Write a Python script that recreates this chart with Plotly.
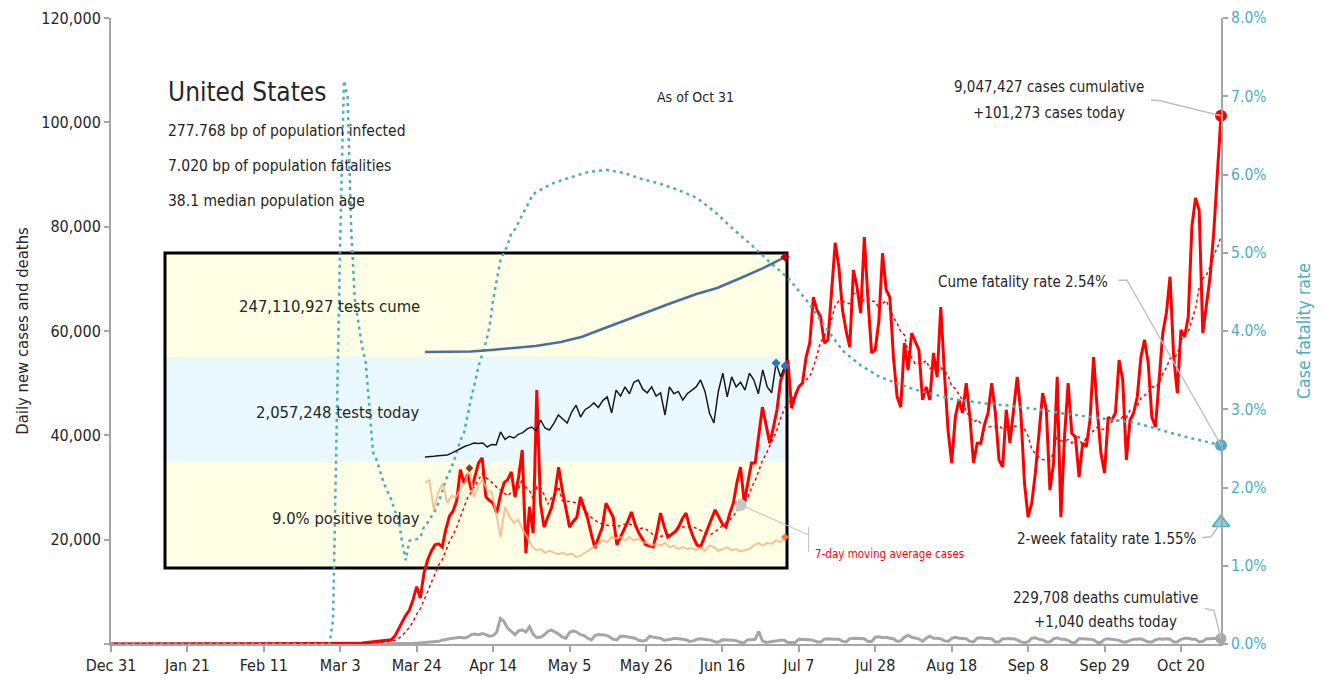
import pandas as pd
import plotly.graph_objects as go

FONT = "DejaVu Sans Condensed, Liberation Sans Narrow, sans-serif"
RED = "#FF0000"
GREY = "#A6A6A6"
BLUE = "#4BACC6"
TXT = "#262626"

# ---- main chart data ----
first_day = "2019-12-31"

# daily new cases, Mar 1 .. Oct 31 2020
cases_mar = [0, 0, 10, 20, 30, 50, 80, 120, 180, 250, 300, 400, 450, 500, 600, 700, 800, 1500, 3000, 4200,
             5500, 6500, 8500, 11000, 8800, 13600, 16100, 17800, 19000, 19200, 18600]
cases_apr = [22000, 24500, 25500, 27500, 33400, 30900, 32500, 29500, 32000, 34700, 35700, 28200, 27500, 27000,
             25100, 28500, 30900, 31500, 33000, 28200, 32000, 37200, 17400, 26300, 21300, 48700, 27000, 22400,
             24300, 26000]
cases_may = [29000, 33900, 29500, 26000, 22400, 23500, 24300, 28200, 26300, 24000, 21000, 18400, 20500, 22400,
             27000, 25500, 24300, 19000, 20500, 21900, 23500, 25300, 23000, 21300, 20000, 19000, 18800, 18600,
             21500, 25100, 22500]
cases_jun = [20500, 21000, 21500, 22500, 24000, 25100, 22400, 20500, 19000, 18600, 20500, 22400, 24000, 25700,
             24300, 23000, 22400, 25000, 27000, 31000, 33900, 27000, 31000, 34700, 34700, 40000, 45400, 42000,
             38500, 41500]
cases_jul = [44900, 50500, 52500, 54400, 45200, 47500, 49300, 50000, 55000, 57700, 66500, 64000, 62700, 57700,
             58300, 68400, 76900, 72300, 64000, 60000, 56900, 71700, 68400, 63400, 78000, 66000, 55800, 56400,
             62000, 74900, 67900]
cases_aug = [66500, 55000, 47400, 45400, 57700, 52500, 59600, 58000, 56400, 46800, 49300, 46800, 55800, 51200,
             64600, 52000, 41000, 34700, 43500, 46800, 44300, 50000, 43500, 34700, 38500, 38500, 42000, 44300,
             50000, 44300, 35300]
cases_sep = [33900, 44900, 38500, 45000, 51200, 44300, 30900, 24300, 27000, 32800, 40000, 48100, 44900, 29500,
             34700, 51200, 24300, 39700, 50000, 40400, 39700, 32000, 38500, 37800, 42900, 55000, 44900, 36600,
             32800, 43500]
cases_oct = [42900, 44300, 54400, 50600, 35300, 42900, 44300, 47400, 55000, 58300, 53900, 43500, 41600, 50600,
             59600, 63500, 70400, 55000, 48100, 60200, 58900, 62700, 80000, 85500, 83200, 59600, 65000, 70400,
             78800, 89000, 101273]

# daily deaths, Mar 1 .. Oct 31 2020
deaths_mar = [0, 1, 2, 3, 2, 4, 3, 4, 4, 7, 6, 9, 8, 11, 10, 17, 23, 37, 45, 56, 67, 103, 134, 156, 206, 256,
              385, 480, 505, 514, 711]
deaths_apr = [900, 1000, 1100, 1200, 1300, 1150, 1300, 1800, 1900, 1800, 2000, 1800, 1500, 1600, 2300, 4900,
              4300, 3000, 2300, 1800, 2500, 2700, 2300, 3300, 1900, 1200, 1300, 1700, 2400, 2700]
deaths_may = [2300, 1900, 1300, 1100, 2200, 2500, 2300, 1800, 1600, 1100, 800, 1600, 1800, 1800, 1700, 1400,
              900, 800, 1500, 1500, 1400, 1300, 1100, 700, 600, 700, 1500, 1300, 1200, 1100, 700]
deaths_jun = [800, 1000, 1100, 1000, 900, 800, 500, 600, 900, 1000, 900, 800, 700, 400, 400, 800, 800, 700,
              700, 600, 300, 300, 800, 800, 900, 2400, 600, 300, 400, 600]
deaths_jul = [700, 700, 700, 300, 300, 300, 900, 900, 900, 800, 700, 400, 400, 900, 1000, 900, 900, 900, 500,
              400, 1000, 1100, 1100, 1100, 1000, 500, 500, 1300, 1400, 1200, 1300]
deaths_aug = [1100, 1000, 500, 600, 1300, 1700, 1300, 1100, 1000, 500, 1100, 1500, 1100, 1100, 1000, 600, 500,
              1100, 1300, 1100, 1100, 1000, 500, 400, 1100, 1200, 1100, 1000, 1000, 400, 400]
deaths_sep = [1000, 1000, 1100, 1000, 800, 400, 300, 400, 1100, 1200, 900, 800, 400, 400, 1000, 1200, 900, 900,
              700, 300, 300, 1000, 1000, 1000, 900, 800, 300, 300, 900, 1000]
deaths_oct = [900, 900, 700, 400, 400, 700, 900, 900, 1000, 700, 400, 400, 800, 1000, 900, 1000, 900, 400, 400,
              900, 1100, 1100, 900, 900, 400, 500, 1000, 1000, 1100, 1000, 1040]

# cumulative case fatality rate (%), daily Feb 29 .. Apr 19, then every 5 days
cfr_daily = [0, 0.3, 2.8, 5.2, 7.2, 7.0, 5.3, 4.4, 4.1, 3.8, 3.6, 3.0, 2.45, 2.35, 2.2, 2.05, 1.95, 1.85, 1.7,
             1.6, 1.3, 1.07, 1.32, 1.33, 1.34, 1.36, 1.5, 1.55, 1.62, 1.7, 1.8, 1.95,
             2.1, 2.2, 2.31, 2.45, 2.6, 2.7, 2.95, 3.15, 3.34, 3.55, 3.7, 3.85, 4.05, 4.4, 4.65, 4.9, 5.0, 5.1,
             5.25]
cfr_later_dates = ["2020-04-20", "2020-04-25", "2020-04-30", "2020-05-05", "2020-05-10", "2020-05-15",
                   "2020-05-20", "2020-05-25", "2020-05-30", "2020-06-04", "2020-06-09", "2020-06-14",
                   "2020-06-19", "2020-06-24", "2020-06-29", "2020-07-04", "2020-07-09", "2020-07-14",
                   "2020-07-19", "2020-07-24", "2020-07-29", "2020-08-03", "2020-08-08", "2020-08-13",
                   "2020-08-18", "2020-08-23", "2020-08-28", "2020-09-02", "2020-09-07", "2020-09-12",
                   "2020-09-17", "2020-09-22", "2020-09-27", "2020-10-02", "2020-10-07", "2020-10-12",
                   "2020-10-17", "2020-10-22", "2020-10-27", "2020-10-31"]
cfr_later = [5.3, 5.75, 5.88, 5.96, 6.03, 6.06, 6.02, 5.94, 5.88, 5.8, 5.7, 5.52, 5.3, 5.1, 4.88, 4.68, 4.4,
             4.07, 3.75, 3.56, 3.42, 3.33, 3.25, 3.19, 3.13, 3.10, 3.07, 3.05, 3.02, 2.99, 2.95, 2.92, 2.89,
             2.86, 2.83, 2.77, 2.70, 2.64, 2.58, 2.54]
two_week_cfr = 1.55

# ---- inset (testing) data ----
cume_dates = ["2020-03-01", "2020-03-15", "2020-04-01", "2020-04-15", "2020-05-01", "2020-05-15", "2020-06-01",
              "2020-06-15", "2020-07-01", "2020-07-15", "2020-08-01", "2020-08-15", "2020-09-01", "2020-09-15",
              "2020-10-01", "2020-10-15", "2020-10-31"]
tests_cume = [0, 0.2e6, 1.3e6, 5.2e6, 10.4e6, 15.6e6, 26.0e6, 39.0e6, 62.4e6, 83.2e6, 106.6e6, 127.5e6,
              150.9e6, 166.5e6, 192.5e6, 215.9e6, 247110927]
tests_today = [66e3, 70e3, 80e3, 95e3, 100e3, 110e3, 150e3, 200e3, 250e3, 300e3, 330e3, 372e3, 360e3, 372e3,
               285e3, 340e3, 328e3, 613e3, 450e3, 520e3, 481e3, 560e3, 600e3, 680e3, 722e3, 640e3, 875e3,
               700e3, 657e3, 800e3, 985e3, 900e3, 810e3, 1.05e6, 1.20e6, 941e3, 1.10e6, 1.16e6, 1.25e6,
               1.15e6, 1.30e6, 1.38e6, 1.03e6, 1.53e6, 1.40e6, 1.60e6, 1.45e6, 1.70e6, 1.75e6, 1.55e6, 1.47e6,
               1.60e6, 1.40e6, 1.47e6, 985e3, 1.60e6, 1.45e6, 1.50e6, 1.31e6, 1.45e6, 1.53e6, 1.60e6, 1.75e6,
               1.50e6, 1.03e6, 810e3, 1.50e6, 1.90e6, 1.38e6, 1.82e6, 1.60e6, 1.70e6, 1.53e6, 1.90e6, 1.75e6,
               1.45e6, 1.97e6, 1.60e6, 1.47e6, 2.12e6, 1.82e6, 2057248]
positive_pct = [24.7, 25.6, 16.8, 22.0, 24.7, 19.0, 21.0, 20.6, 23.0, 24.7, 29.0, 20.6, 24.0, 25.6, 22.6, 22.0,
                16.0, 9.0, 17.7, 15.0, 13.1, 14.0, 11.0, 9.0, 6.5, 5.2, 5.5, 4.4, 5.0, 4.4, 4.0, 4.4, 3.8, 4.2,
                3.2, 3.5, 4.5, 5.2, 6.0, 7.0, 8.1, 7.5, 9.0, 8.5, 9.0, 8.0, 9.0, 8.0, 8.5, 7.5, 7.3, 6.5, 7.0,
                6.5, 7.3, 6.0, 6.5, 5.5, 6.1, 5.5, 5.8, 5.2, 6.0, 5.0, 6.5, 6.1, 5.0, 5.5, 6.0, 5.2, 5.5, 4.8,
                5.2, 5.5, 6.5, 7.3, 6.5, 7.3, 7.0, 8.1, 7.5, 9.0]

y_ticktext = ["", "20,000", "40,000", "60,000", "80,000", "100,000", "120,000"]
y_tickvals = [0, 20000, 40000, 60000, 80000, 100000, 120000]

daily_cases = cases_mar + cases_apr + cases_may + cases_jun + cases_jul + cases_aug + cases_sep + cases_oct
daily_deaths = deaths_mar + deaths_apr + deaths_may + deaths_jun + deaths_jul + deaths_aug + deaths_sep + deaths_oct
day_range = pd.date_range("2020-03-01", "2020-10-31")
if len(daily_cases) != len(day_range) or len(daily_deaths) != len(day_range):
    raise SystemExit(f"length mismatch {len(daily_cases)} {len(daily_deaths)} {len(day_range)}")

days = [pd.Timestamp(first_day)] + list(day_range)
cases = pd.Series([0] + daily_cases, index=days)
deaths = pd.Series([0] + daily_deaths, index=days)
ma7 = cases.rolling(7, min_periods=1).mean()

cfr_dates = [pd.Timestamp(first_day)] + list(pd.date_range("2020-02-29", "2020-04-19")) + \
    [pd.Timestamp(d) for d in cfr_later_dates]
cfr = [0] + cfr_daily + cfr_later
if len(cfr) != len(cfr_dates):
    raise SystemExit(f"cfr mismatch {len(cfr)} {len(cfr_dates)}")

inset_days = pd.date_range("2020-03-01", "2020-10-31", periods=len(tests_today))
if len(positive_pct) != len(inset_days):
    raise SystemExit("positive mismatch")

fig = go.Figure()

# inset traces
fig.add_trace(go.Scatter(x=cume_dates, y=tests_cume, xaxis="x2", yaxis="y3", mode="lines",
                         line=dict(color="#4A6E9E", width=2.5)))
fig.add_trace(go.Scatter(x=[cume_dates[-1]], y=[tests_cume[-1]], xaxis="x2", yaxis="y3", mode="markers",
                         marker=dict(symbol="diamond", size=7, color="#C00000"), cliponaxis=False))
fig.add_trace(go.Scatter(x=inset_days, y=tests_today, xaxis="x2", yaxis="y4", mode="lines",
                         line=dict(color="#1A1A1A", width=1.5)))
i_max = tests_today.index(max(tests_today))
fig.add_trace(go.Scatter(x=[inset_days[i_max], inset_days[-1]], y=[tests_today[i_max], tests_today[-1]],
                         xaxis="x2", yaxis="y4", mode="markers",
                         marker=dict(symbol="diamond", size=7, color="#2E75B6"), cliponaxis=False))
fig.add_trace(go.Scatter(x=inset_days, y=positive_pct, xaxis="x2", yaxis="y5", mode="lines",
                         line=dict(color="rgba(244,177,131,0.8)", width=2)))
p_max = positive_pct.index(max(positive_pct))
fig.add_trace(go.Scatter(x=[inset_days[p_max], inset_days[-1]], y=[positive_pct[p_max], positive_pct[-1]],
                         xaxis="x2", yaxis="y5", mode="markers",
                         marker=dict(symbol="diamond", size=6, color=["#843C0C", "#ED7D31"]), cliponaxis=False))

# main traces
fig.add_trace(go.Scatter(x=days, y=deaths, mode="lines", line=dict(color=GREY, width=3)))
fig.add_trace(go.Scatter(x=cfr_dates, y=cfr, yaxis="y2", mode="lines",
                         line=dict(color=BLUE, width=2.5, dash="3px,4px")))
fig.add_trace(go.Scatter(x=days, y=ma7, mode="lines", line=dict(color=RED, width=1.5, dash="dot")))
fig.add_trace(go.Scatter(x=days, y=cases, mode="lines", line=dict(color=RED, width=3)))

ma_point = pd.Timestamp("2020-06-21")
fig.add_trace(go.Scatter(x=[ma_point], y=[ma7[ma_point]], mode="markers",
                         marker=dict(size=12, color="#C8C8C8")))
last = days[-1]
fig.add_trace(go.Scatter(x=[last], y=[cases.iloc[-1]], mode="markers", cliponaxis=False,
                         marker=dict(size=12, color=RED)))
fig.add_trace(go.Scatter(x=[last], y=[deaths.iloc[-1]], mode="markers", cliponaxis=False,
                         marker=dict(size=11, color=GREY)))
fig.add_trace(go.Scatter(x=[last], y=[cfr[-1]], yaxis="y2", mode="markers", cliponaxis=False,
                         marker=dict(size=12, color=BLUE)))
fig.add_trace(go.Scatter(x=[last], y=[two_week_cfr], yaxis="y2", mode="markers", cliponaxis=False,
                         marker=dict(symbol="triangle-up", size=15, color="rgba(75,172,198,0.6)",
                                     line=dict(color=BLUE, width=1.5))))


W, H = 1325, 681
PL, PR, PT, PB = 111, 1221, 18, 644   # plot area in screen pixels


def px_x(x):
    return (x - PL) / (PR - PL)


def px_y(y):
    return (PB - y) / (PB - PT)


# inset background bands and frame
bands = [(253, 357, "#FFFFE6"), (357, 462, "#EAF8FF"), (462, 568, "#FFFFE6")]
shapes = []
for top, bot, col in bands:
    shapes.append(dict(type="rect", xref="paper", yref="paper", x0=px_x(165), x1=px_x(787),
                       y0=px_y(bot), y1=px_y(top), fillcolor=col, line=dict(width=0), layer="below"))
shapes.append(dict(type="rect", xref="paper", yref="paper", x0=px_x(165), x1=px_x(787),
                   y0=px_y(568), y1=px_y(253), line=dict(color="black", width=3), layer="below"))

# leader lines (pixel offsets from the marked point)
lead = dict(color="#BFBFBF", width=1.5)
shapes.append(dict(type="path", xref="paper", yref="y", xsizemode="pixel", ysizemode="pixel",
                   xanchor=1, yanchor=cases.iloc[-1], path="M-70,16 L-61,15 L0,0", line=lead))
shapes.append(dict(type="path", xref="paper", yref="y2", xsizemode="pixel", ysizemode="pixel",
                   xanchor=1, yanchor=cfr[-1], path="M-103,165 L-94,165 L0,0", line=lead))
shapes.append(dict(type="path", xref="paper", yref="y2", xsizemode="pixel", ysizemode="pixel",
                   xanchor=1, yanchor=two_week_cfr, path="M-19,-15 L-10,-14 L0,0", line=lead))
shapes.append(dict(type="path", xref="paper", yref="y", xsizemode="pixel", ysizemode="pixel",
                   xanchor=1, yanchor=deaths.iloc[-1], path="M-16,30 L-7,28 L0,0", line=lead))
shapes.append(dict(type="path", xref="x", yref="y", xsizemode="pixel", ysizemode="pixel",
                   xanchor=ma_point, yanchor=ma7[ma_point],
                   path="M0,0 L68,-30 M68,-22 L68,-47", line=dict(color="#BFBFBF", width=1)))


def note(text, x, y, xanchor="left", size=16, color=TXT):
    return dict(text=text, xref="paper", yref="paper", x=px_x(x), y=px_y(y), xanchor=xanchor,
                yanchor="middle", showarrow=False, font=dict(size=size, color=color))


annotations = [
    note("United States", 166, 92, size=26),
    note("277.768 bp of population infected", 166, 131, size=15.5),
    note("7.020 bp of population fatalities", 166, 166, size=15.5),
    note("38.1 median population age", 166, 201, size=15.5),
    note("As of Oct 31", 696, 97, xanchor="center", size=14),
    note("9,047,427 cases cumulative", 1049, 87, xanchor="center", size=15),
    note("+101,273 cases today", 1049, 113, xanchor="center", size=15),
    note("Cume fatality rate 2.54%", 1110, 282, xanchor="right", size=15),
    note("2-week fatality rate 1.55%", 1199, 539, xanchor="right", size=15),
    note("229,708 deaths cumulative", 1105, 598, xanchor="center", size=15),
    note("+1,040 deaths today", 1105, 622, xanchor="center", size=15),
    note("247,110,927 tests cume", 422, 307, xanchor="right", size=16.5),
    note("2,057,248 tests today", 422, 412, xanchor="right", size=16.5),
    note("9.0% positive today", 422, 518, xanchor="right", size=16.5),
    note("7-day moving average cases", 813, 554, size=11.5, color=RED),
]

# automargin off: the template would otherwise widen the margins and shrink the plot area
axis_common = dict(showline=True, linecolor=GREY, linewidth=2, ticks="outside", tickcolor=GREY,
                   tickwidth=2, showgrid=False, zeroline=False, automargin=False)

fig.update_layout(
    width=W, height=H,
    margin=dict(l=PL, r=W - PR, t=PT, b=H - PB, pad=0),
    plot_bgcolor="rgba(0,0,0,0)", paper_bgcolor="white",
    showlegend=False,
    font=dict(family=FONT, color=TXT, size=16),
    shapes=shapes,
    annotations=annotations,
    xaxis=dict(type="date", range=[first_day, "2020-10-31"], tick0=first_day, dtick=21 * 86400000,
               tickformat="%b %-d", ticklen=6, tickfont=dict(size=16, color=TXT), **axis_common),
    yaxis=dict(range=[0, 120000], tickvals=y_tickvals, ticktext=y_ticktext, ticklen=5,
               tickfont=dict(size=16, color=TXT),
               title=dict(text="Daily new cases and deaths", font=dict(size=16.5, color=TXT), standoff=9),
               **axis_common),
    yaxis2=dict(overlaying="y", side="right", anchor="x", range=[0, 8], dtick=1, tickformat=".1f",
                ticksuffix="%", ticklen=5, tickfont=dict(size=15.5, color=BLUE),
                title=dict(text="Case fatality rate", font=dict(size=17.5, color=BLUE), standoff=32),
                **axis_common),
    xaxis2=dict(domain=[px_x(425), px_x(785)], anchor="y3", type="date",
                range=["2020-03-01", "2020-10-31"], visible=False, automargin=False),
    yaxis3=dict(domain=[px_y(357), px_y(253)], anchor="x2", range=[-13.0e6, 257.5e6], visible=False,
                automargin=False),
    yaxis4=dict(domain=[px_y(462), px_y(357)], anchor="x2", range=[-44e3, 2.254e6], visible=False,
                automargin=False),
    yaxis5=dict(domain=[px_y(568), px_y(462)], anchor="x2", range=[0, 30.8], visible=False,
                automargin=False),
)

# drop the default 8px page margin so the figure sits at the window's top-left corner
fig.write_html("out.html", config={"displayModeBar": False},
               post_script="document.body.style.margin='0px';")
